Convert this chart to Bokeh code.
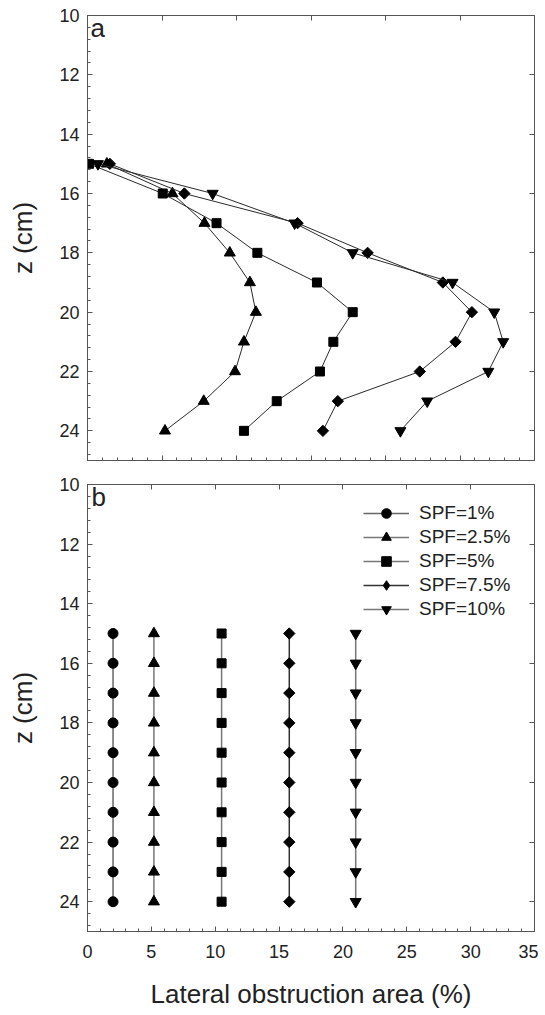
import math
from bokeh.plotting import figure
from bokeh.models import Range1d, LinearAxis, Label, Legend, LegendItem, SingleIntervalTicker
from bokeh.layouts import column
from bokeh.embed import file_html
from bokeh.resources import INLINE

# ---------------- data ----------------
z = [15, 16, 17, 18, 19, 20, 21, 22, 23, 24]

# panel a: lateral obstruction area (%) along z
a_spf25 = [1.3, 5.7, 7.85, 9.55, 10.9, 11.3, 10.5, 9.9, 7.8, 5.2]
a_spf5 = [0.1, 5.05, 8.66, 11.4, 15.4, 17.8, 16.5, 15.6, 12.7, 10.5]
a_spf75 = [1.5, 6.5, 14.1, 18.8, 23.85, 25.8, 24.7, 22.3, 16.8, 15.8]
a_spf10 = [0.7, 8.4, 13.9, 17.8, 24.5, 27.3, 27.9, 26.9, 22.8, 21.0]

# panel b: constant lateral obstruction area (%)
b_labels = ["SPF=1%", "SPF=2.5%", "SPF=5%", "SPF=7.5%", "SPF=10%"]
b_values = [2.0, 5.2, 10.5, 15.8, 21.0]

x_title = "Lateral obstruction area (%)"
y_title = "z (cm)"

FONT = "Liberation Sans"
AX = "#555555"
TXT = "#222222"

markers = [
    dict(marker="circle", size=10, angle=0.0),
    dict(marker="triangle", size=11, angle=0.0),
    dict(marker="square", size=9, angle=0.0),
    dict(marker="square", size=8, angle=math.pi / 4),
    dict(marker="inverted_triangle", size=11, angle=0.0),
]
# legend-only markers (legend ignores angle, so use a real diamond there)
legend_markers = ["circle", "triangle", "square", "diamond", "inverted_triangle"]


def hidden_labels(axis):
    axis.major_label_text_font_size = "0px"
    axis.major_label_text_color = None
    axis.major_label_standoff = 0


def style(p, xlabels):
    p.outline_line_color = AX
    p.outline_line_width = 1
    p.xgrid.visible = False
    p.ygrid.visible = False
    p.background_fill_color = "white"
    p.border_fill_color = "white"

    xa = p.xaxis[0]
    xa.ticker = SingleIntervalTicker(interval=5, num_minor_ticks=5)
    xa.axis_line_color = AX
    xa.major_tick_line_color = AX
    xa.minor_tick_line_color = AX
    xa.major_tick_in = 5
    xa.major_tick_out = 0
    xa.minor_tick_in = 3
    xa.minor_tick_out = 0
    xa.major_label_text_font = FONT
    xa.major_label_text_color = TXT
    if xlabels:
        xa.major_label_text_font_size = "18px"
        xa.major_label_standoff = 13
        xa.axis_label = x_title
        xa.axis_label_text_font = FONT
        xa.axis_label_text_font_size = "26px"
        xa.axis_label_text_font_style = "normal"
        xa.axis_label_text_color = TXT
        xa.axis_label_standoff = 18
    else:
        hidden_labels(xa)

    ya = p.yaxis[0]
    ya.ticker = SingleIntervalTicker(interval=2, num_minor_ticks=5)
    ya.axis_line_color = AX
    ya.major_tick_line_color = AX
    ya.minor_tick_line_color = AX
    ya.major_tick_in = 5
    ya.major_tick_out = 0
    ya.minor_tick_in = 3
    ya.minor_tick_out = 0
    ya.major_label_text_font = FONT
    ya.major_label_text_font_size = "18px"
    ya.major_label_text_color = TXT
    ya.major_label_standoff = 8
    ya.axis_label = y_title
    ya.axis_label_text_font = FONT
    ya.axis_label_text_font_size = "26px"
    ya.axis_label_text_font_style = "normal"
    ya.axis_label_text_color = TXT
    ya.axis_label_standoff = 18

    # mirror axes (major ticks only, no labels)
    top = LinearAxis(ticker=SingleIntervalTicker(interval=5, num_minor_ticks=0),
                     major_tick_in=5, major_tick_out=0, minor_tick_line_color=None,
                     axis_line_color=None, major_tick_line_color=AX)
    right = LinearAxis(ticker=SingleIntervalTicker(interval=2, num_minor_ticks=0),
                       major_tick_in=5, major_tick_out=0, minor_tick_line_color=None,
                       axis_line_color=None, major_tick_line_color=AX)
    hidden_labels(top)
    hidden_labels(right)
    p.add_layout(top, "above")
    p.add_layout(right, "right")


# ---------------- panel a ----------------
pa = figure(frame_width=447, frame_height=445, output_backend="svg", toolbar_location=None,
            x_range=Range1d(0, 30), y_range=Range1d(25, 10),
            min_border_left=87, min_border_top=15, min_border_right=4, min_border_bottom=12)
style(pa, False)

a_series = [a_spf25, a_spf5, a_spf75, a_spf10]
for vals, mk in zip(a_series, markers[1:]):
    pa.line(vals, z, line_color="#2a2a2a", line_width=1)
    pa.scatter(vals, z, marker=mk["marker"], size=mk["size"], angle=mk["angle"],
               fill_color="black", line_color="black")

pa.add_layout(Label(x=0, y=10, x_offset=3, y_offset=-12, text="a", text_font=FONT,
                    text_font_size="26px", text_color=TXT, text_baseline="alphabetic"))

# ---------------- panel b ----------------
pb = figure(frame_width=447, frame_height=447, output_backend="svg", toolbar_location=None,
            x_range=Range1d(0, 35), y_range=Range1d(25, 10),
            min_border_left=87, min_border_top=12, min_border_right=4, min_border_bottom=80)
style(pb, True)

line_cols = ["#666666", "#777777", "#777777", "#333333", "#777777"]
items = []
for lab, v, mk, lmk, lc in zip(b_labels, b_values, markers, legend_markers, line_cols):
    xs = [v] * len(z)
    lr = pb.line(xs, z, line_color=lc, line_width=1.5)
    pb.scatter(xs, z, marker=mk["marker"], size=mk["size"], angle=mk["angle"],
               fill_color="black", line_color="black")
    # legend-only marker renderer (no visible data)
    dr = pb.scatter([float("nan")], [float("nan")], marker=lmk, size=10,
                    fill_color="black", line_color="black")
    items.append(LegendItem(label=lab, renderers=[lr, dr]))

leg = Legend(items=items, location=(276, 310), background_fill_alpha=0,
             border_line_color=None, padding=0, margin=0, spacing=0,
             glyph_width=46, glyph_height=24, label_height=24, label_standoff=10,
             label_text_font=FONT, label_text_font_size="19px", label_text_color=TXT)
pb.add_layout(leg)

pb.add_layout(Label(x=0, y=10, x_offset=4, y_offset=-12, text="b", text_font=FONT,
                    text_font_size="26px", text_color=TXT, text_baseline="alphabetic"))

layout = column(pa, pb, spacing=0)
open("out.html", "w").write(file_html(layout, INLINE))
